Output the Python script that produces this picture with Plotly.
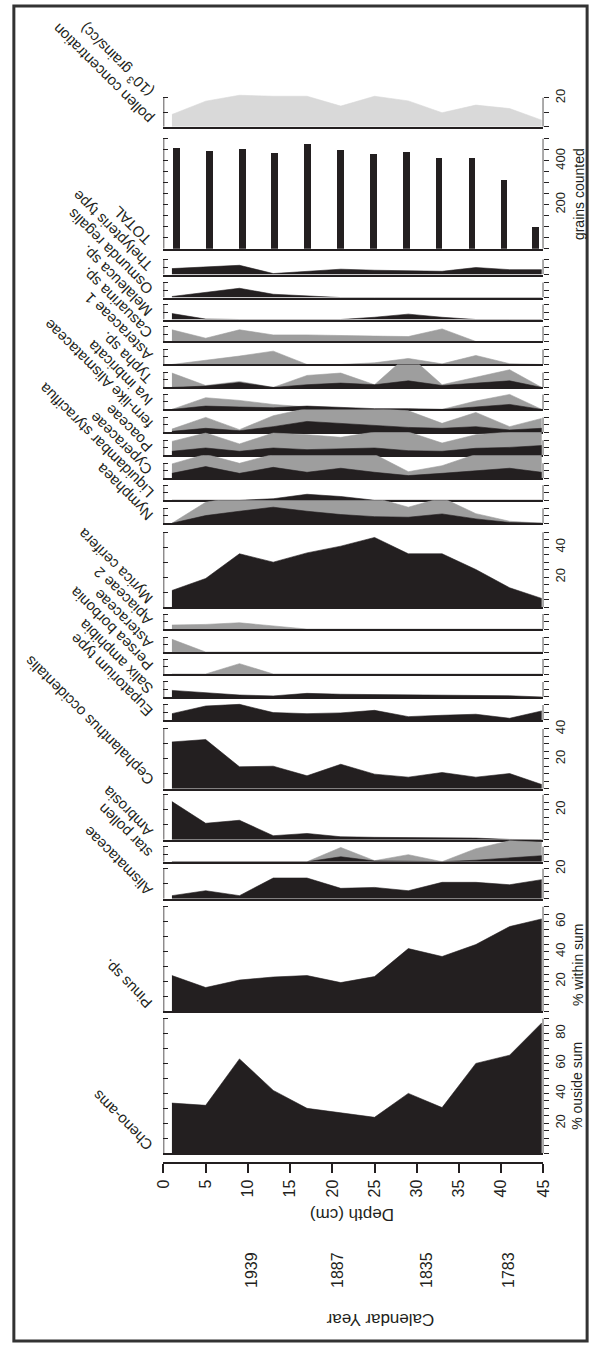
import plotly.graph_objects as go

FIG_W, FIG_H = 599, 1346
X_LEFT, X_RIGHT = 159, 550
FONT = "Liberation Sans, Arial, sans-serif"
BLACK = "#231f20"
GRAY = "#9e9e9e"
LIGHT = "#d9d9d9"

# ---------------- data ----------------
depth_cm = [1, 5, 9, 13, 17, 21, 25, 29, 33, 37, 41, 44.8]
total_depth_cm = [1.6, 5.5, 9.4, 13.2, 17.1, 21.0, 24.9, 28.8, 32.7, 36.6, 40.4, 44.1]
depth_ticks = [0, 5, 10, 15, 20, 25, 30, 35, 40, 45]
calendar_years = ["1939", "1887", "1835", "1783"]
calendar_year_depths = [10.5, 20.6, 31.2, 40.9]

pollen_concentration = [8.5, 17.7, 21.8, 21.1, 21.1, 14.3, 21.1, 17.9, 9.7, 15.0, 12.6, 4.6]
total_grains = [460, 444, 455, 436, 477, 451, 432, 441, 415, 412, 314, 99]
thelypteris = [4.0, 5.1, 6.2, 0.7, 2.2, 3.6, 2.9, 2.7, 2.2, 4.7, 3.3, 3.3]
osmunda = [0.7, 3.3, 6.2, 2.2, 1.1, 0, 0, 0, 0, 0, 0, 0]
melaleuca = [4.0, 0.3, 0, 0, 0, 0, 1.5, 3.6, 1.5, 0, 0, 0]
casuarina_x = [7.8, 2.2, 7.8, 4.4, 4.4, 3.8, 3.6, 3.3, 8.4, 0, 0, 0]
asteraceae1_x = [0, 2.7, 5.6, 8.9, 0, 0, 1.1, 4.0, 0.4, 6.0, 0.5, 0]
typha_x = [9.6, 1.3, 4.0, 0, 8.0, 9.6, 1.8, 21.8, 1.8, 6.7, 11.8, 0]
typha = [0, 0.9, 3.3, 0, 1.8, 2.9, 1.8, 4.4, 1.3, 2.9, 4.4, 0]
iva_x = [0, 7.8, 6.0, 3.3, 1.6, 0.7, 0, 0, 0, 5.6, 10.0, 0]
iva = [0, 2.2, 1.6, 1.1, 2.2, 1.1, 0.5, 0.5, 0, 1.6, 3.3, 0]
fern_x = [2.2, 10.0, 1.8, 11.1, 16.0, 16.0, 16.0, 14.4, 6.0, 13.3, 3.8, 9.3]
fern = [0.7, 2.7, 1.1, 3.8, 7.3, 6.0, 4.4, 3.3, 2.7, 3.8, 1.6, 2.7]
poaceae_x = [9.3, 14.9, 7.6, 14.9, 13.8, 12.0, 15.6, 15.6, 8.2, 13.8, 15.6, 15.6]
poaceae = [2.7, 4.9, 2.7, 4.9, 3.8, 4.4, 4.9, 3.1, 2.7, 4.7, 5.3, 6.5]
cyperaceae_x = [9.6, 16.0, 10.0, 16.0, 16.0, 16.0, 16.0, 4.4, 8.4, 16.0, 16.0, 16.0]
cyperaceae = [3.3, 7.8, 3.3, 7.3, 4.0, 6.7, 4.0, 1.8, 3.3, 4.9, 6.7, 4.0]
liquidambar = [0, 0, 0, 1.0, 4.0, 2.5, 0, 0, 0, 0, 0, 0]
nymphaea_x = [0, 14.0, 18.0, 20.0, 20.0, 18.0, 17.0, 10.7, 17.0, 6.4, 1.3, 0]
nymphaea = [0, 5.1, 8.0, 10.7, 8.0, 5.8, 4.4, 4.0, 6.2, 2.9, 0.5, 0]
myrica = [11.1, 19.1, 35.6, 30.0, 36.2, 40.7, 46.5, 35.6, 35.6, 25.1, 12.9, 5.8]
apiaceae_x = [2.7, 3.1, 4.2, 2.0, 0, 0, 0, 0, 0, 0, 0, 0]
asteraceae_x = [8.5, 0, 0, 0, 0, 0, 0, 0, 0, 0, 0, 0]
persea_x = [0, 0, 6.9, 0, 0, 0, 0, 0, 0, 0, 0, 0]
salix = [4.4, 2.9, 1.3, 0.7, 2.4, 1.8, 1.6, 1.6, 1.3, 1.1, 0.8, 0]
eupatorium = [4.2, 9.3, 10.4, 4.9, 4.2, 4.7, 6.4, 2.2, 3.1, 3.8, 1.1, 6.0]
cephalanthus = [31.3, 32.9, 14.7, 15.1, 8.7, 16.4, 9.8, 7.8, 10.9, 7.8, 10.2, 2.9]
ambrosia = [25.5, 11.0, 13.0, 2.7, 4.2, 2.0, 1.6, 1.6, 1.3, 1.1, 0.2, 0]
star_pollen_x = [0, 0, 0, 0, 0, 9.5, 0.7, 4.7, 0, 8.7, 14.0, 13.0]
star_pollen = [0, 0, 0, 0, 0, 3.3, 0.5, 0.3, 0, 1.0, 2.4, 4.0]
alismataceae = [2.0, 5.3, 2.0, 13.8, 13.8, 6.9, 7.5, 5.3, 10.9, 10.9, 9.3, 12.7]
pinus = [24.0, 16.0, 21.0, 23.0, 24.0, 19.3, 23.3, 42.0, 36.7, 44.7, 56.7, 61.8]
cheno_ams = [33.5, 32.0, 63.0, 42.0, 30.0, 27.0, 24.0, 40.0, 30.5, 60.0, 65.5, 87.0]

# ---------------- text width helper (Arial / Liberation Sans metrics) ----------------
_W = {" ": 278, "(": 333, ")": 333, ".": 278, "-": 333, "/": 278, "%": 889,
      "a": 556, "b": 556, "c": 500, "d": 556, "e": 556, "f": 278, "g": 556, "h": 556,
      "i": 222, "j": 222, "k": 500, "l": 222, "m": 833, "n": 556, "o": 556, "p": 556,
      "q": 556, "r": 333, "s": 500, "t": 278, "u": 556, "v": 500, "w": 722, "x": 500,
      "y": 500, "z": 500, "A": 667, "C": 722, "E": 667, "I": 278, "L": 556, "M": 833,
      "N": 722, "O": 778, "P": 667, "S": 667, "T": 611}


def text_w(s, size):
    return sum(_W.get(ch, 556) for ch in s) * size / 1000.0


# ---------------- panel layout (pixel positions) ----------------
def small(label, series, base, top):
    return dict(label=label, series=series, base=base, top=top, scale=1.5,
                lt=[0, 5, 10], rt=[0, 5, 10], rl={})


def rng(a, b, s):
    return list(range(a, b + 1, s))


panels = [
    dict(label=("pollen concentration", "(10<sup>3</sup> grains/cc)"), series=[(pollen_concentration, LIGHT)],
         base=125, top=84, scale=1.45, lt=[0, 10, 20], rt=[0, 10, 20], rl={20: "20"}),
    dict(label="TOTAL", bars=total_grains, base=247, top=130, scale=0.22,
         lt=rng(0, 500, 50), rt=rng(0, 500, 50), rl={200: "200", 400: "400"}),
    small("Thelypteris type", [(thelypteris, BLACK)], 273, 250),
    small("Osmunda regalis", [(osmunda, BLACK)], 296, 273),
    small("Melaleuca sp.", [(melaleuca, BLACK)], 318, 296),
    small("Casuarina sp.", [(casuarina_x, GRAY)], 340, 318),
    small("Asteraceae 1", [(asteraceae1_x, GRAY)], 363, 340),
    small("Typha sp.", [(typha_x, GRAY), (typha, BLACK)], 386, 363),
    small("Iva imbricata", [(iva_x, GRAY), (iva, BLACK)], 408, 386),
    small("fern-like Alismataceae", [(fern_x, GRAY), (fern, BLACK)], 431, 408),
    small("Poaceae", [(poaceae_x, GRAY), (poaceae, BLACK)], 454, 431),
    small("Cyperaceae", [(cyperaceae_x, GRAY), (cyperaceae, BLACK)], 477, 454),
    small("Liquidambar styraciflua", [(liquidambar, BLACK)], 499, 477),
    small("Nymphaea", [(nymphaea_x, GRAY), (nymphaea, BLACK)], 522, 499),
    dict(label="Myrica cerifera", series=[(myrica, BLACK)], base=606, top=522, scale=1.5,
         lt=rng(0, 50, 10), rt=rng(0, 50, 5), rl={20: "20", 40: "40"}),
    small("Apiaceae 2", [(apiaceae_x, GRAY)], 628, 606),
    small("Asteraceae", [(asteraceae_x, GRAY)], 651, 628),
    small("Persea borbonia", [(persea_x, GRAY)], 673, 651),
    small("Salix amphibia", [(salix, BLACK)], 696, 673),
    small("Eupatorium type", [(eupatorium, BLACK)], 719, 696),
    dict(label="Cephalanthus occidentalis", series=[(cephalanthus, BLACK)], base=788, top=719, scale=1.5,
         lt=rng(0, 40, 10), rt=rng(0, 40, 5), rl={20: "20", 40: "40"}),
    dict(label="Ambrosia", series=[(ambrosia, BLACK)], base=839, top=788, scale=1.5,
         lt=rng(0, 30, 10), rt=rng(0, 30, 5), rl={20: "20"}),
    small("star pollen", [(star_pollen_x, GRAY), (star_pollen, BLACK)], 861, 839),
    dict(label="Alismataceae", series=[(alismataceae, BLACK)], base=898, top=861, scale=1.5,
         lt=rng(0, 20, 10), rt=rng(0, 20, 5), rl={20: "20"}),
    dict(label="Pinus sp.", series=[(pinus, BLACK)], base=1011, top=898, scale=1.5,
         lt=rng(0, 70, 10), rt=rng(0, 70, 5), rl={20: "20", 40: "40", 60: "60"}),
    dict(label="Cheno-ams", series=[(cheno_ams, BLACK)], base=1153, top=1011, scale=1.5,
         lt=rng(0, 90, 10), rt=rng(0, 90, 5), rl={20: "20", 40: "40", 60: "60", 80: "80"}),
]

N = len(panels)
LABEL_SIZE = 15
LABEL_X = 144      # pixel x where each taxon name starts
LABEL_DY = 6       # name starts this many px above the panel baseline
C45 = 0.70710678


def px_x(p):
    return p / FIG_W


def px_y(p):
    return 1 - p / FIG_H


def sfx(k):
    return "" if k == 1 else str(k)


fig = go.Figure()
layout = {}
shapes = []
annotations = []
xdom = [px_x(X_LEFT), px_x(X_RIGHT)]

for i, p in enumerate(panels, start=1):
    xa, ya, yr = "x" + sfx(i), "y" + sfx(i), "y" + str(N + i)
    ymax = (p["base"] - p["top"]) / p["scale"]
    ydom = [px_y(p["base"]), px_y(p["top"])]

    if "bars" in p:
        fig.add_trace(go.Bar(x=total_depth_cm, y=p["bars"], width=0.8, marker_color=BLACK,
                             marker_line_width=0, xaxis=xa, yaxis=ya, hoverinfo="skip"))
    for vals, col in p.get("series", []):
        fig.add_trace(go.Scatter(x=depth_cm, y=vals, mode="lines", fill="tozeroy",
                                 fillcolor=col, line=dict(color=col, width=0.6),
                                 xaxis=xa, yaxis=ya, hoverinfo="skip"))
    fig.add_trace(go.Scatter(x=[None], y=[None], xaxis=xa, yaxis=yr, hoverinfo="skip"))

    layout["xaxis" + sfx(i)] = dict(domain=xdom, range=[0, 45], anchor=ya, showline=True,
                                    linecolor=BLACK, linewidth=1.5, ticks="", showticklabels=False,
                                    showgrid=False, zeroline=False, fixedrange=True)
    layout["yaxis" + sfx(i)] = dict(domain=ydom, range=[0, ymax], anchor=xa, side="left",
                                    ticks="inside", ticklen=5, tickwidth=1.3, tickcolor=BLACK,
                                    tickvals=p["lt"], showticklabels=False, showline=False,
                                    showgrid=False, zeroline=False, fixedrange=True)
    layout["yaxis" + str(N + i)] = dict(range=[0, ymax], anchor=xa, overlaying=ya, side="right",
                                        ticks="outside", ticklen=5, tickwidth=1.3, tickcolor=BLACK,
                                        tickvals=p["rt"], ticktext=[p["rl"].get(v, "") for v in p["rt"]],
                                        tickangle=-90, tickfont=dict(size=13, color=BLACK, family=FONT),
                                        showline=False, showgrid=False, zeroline=False, fixedrange=True)
    shapes.append(dict(type="line", xref=xa, yref=ya, x0=0, x1=0, y0=0, y1=max(p["lt"]),
                       line=dict(color=BLACK, width=1.5)))
    shapes.append(dict(type="line", xref=xa, yref=ya, x0=45, x1=45, y0=0, y1=max(p["rt"]),
                       line=dict(color=BLACK, width=1.5)))

    # rotated taxon name: start point (middle-left of first line) -> box centre
    sx, sy = LABEL_X, p["base"] - LABEL_DY
    if isinstance(p["label"], tuple):
        l1, l2 = p["label"]
        w = text_w(l1, LABEL_SIZE)
        lh = LABEL_SIZE * 1.3
        cx = sx - C45 * w / 2 + C45 * lh / 2
        cy = sy - C45 * w / 2 - C45 * lh / 2
        txt = l1 + "<br>" + l2
    else:
        w = text_w(p["label"], LABEL_SIZE)
        cx = sx - C45 * w / 2
        cy = sy - C45 * w / 2
        txt = p["label"]
    annotations.append(dict(text=txt, x=px_x(cx), y=px_y(cy), xref="paper", yref="paper",
                            xanchor="center", yanchor="middle", textangle=-135, showarrow=False,
                            align="center", font=dict(size=LABEL_SIZE, color=BLACK, family=FONT)))

# depth axis
kd = 2 * N + 1
fig.add_trace(go.Scatter(x=[None], y=[None], xaxis="x" + str(N + 1), yaxis="y" + str(kd), hoverinfo="skip"))
layout["xaxis" + str(N + 1)] = dict(domain=xdom, range=[0, 45], anchor="y" + str(kd), showline=True,
                                    linecolor=BLACK, linewidth=2, ticks="outside", ticklen=9, tickwidth=1.5,
                                    tickcolor=BLACK, tickvals=depth_ticks, ticktext=[str(t) for t in depth_ticks],
                                    tickangle=-90, tickfont=dict(size=16, color=BLACK, family=FONT),
                                    showgrid=False, zeroline=False, fixedrange=True)
layout["yaxis" + str(kd)] = dict(domain=[px_y(1162), px_y(1158)], range=[0, 1], visible=False, fixedrange=True)

# calendar year axis
ky = 2 * N + 2
fig.add_trace(go.Scatter(x=[None], y=[None], xaxis="x" + str(N + 2), yaxis="y" + str(ky), hoverinfo="skip"))
layout["xaxis" + str(N + 2)] = dict(domain=xdom, range=[0, 45], anchor="y" + str(ky), showline=False,
                                    ticks="", tickvals=calendar_year_depths, ticktext=calendar_years,
                                    tickangle=-90, tickfont=dict(size=16, color=BLACK, family=FONT),
                                    showgrid=False, zeroline=False, fixedrange=True)
layout["yaxis" + str(ky)] = dict(domain=[px_y(1248), px_y(1244)], range=[0, 1], visible=False, fixedrange=True)


def title(text, x, y, angle, size):
    return dict(text=text, x=px_x(x), y=px_y(y), xref="paper", yref="paper", textangle=angle,
                xanchor="center", yanchor="middle", showarrow=False,
                font=dict(size=size, color=BLACK, family=FONT))


annotations += [
    title("Depth (cm)", 353, 1215, 180, 17),
    title("Calendar Year", 382, 1320, 180, 17),
    title("grains counted", 586, 192, -90, 14),
    title("% within sum", 585, 964, -90, 14),
    title("% ouside sum", 585, 1085, -90, 14),
]

shapes.append(dict(type="rect", xref="paper", yref="paper", x0=px_x(5), x1=px_x(595),
                   y0=px_y(1341), y1=px_y(4), line=dict(color="#333333", width=3)))

fig.update_layout(width=FIG_W, height=FIG_H, margin=dict(l=0, r=0, t=0, b=0),
                  paper_bgcolor="white", plot_bgcolor="rgba(0,0,0,0)", showlegend=False,
                  shapes=shapes, annotations=annotations, bargap=0, **layout)

fig.write_html("out.html")
